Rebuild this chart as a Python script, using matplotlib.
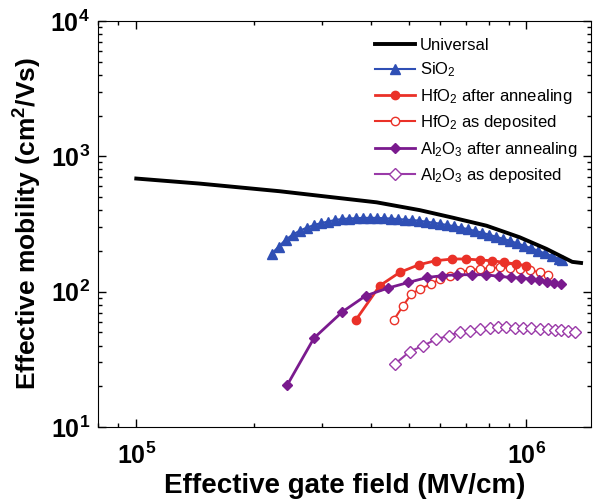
import numpy as np
import matplotlib.pyplot as plt

plt.rcParams['font.family'] = ['Liberation Sans', 'DejaVu Sans']
plt.rcParams['mathtext.fontset'] = 'custom'
plt.rcParams['mathtext.rm'] = 'Liberation Sans'
plt.rcParams['mathtext.it'] = 'Liberation Sans:italic'
plt.rcParams['mathtext.bf'] = 'Liberation Sans:bold'

# Universal mobility curve
univ_x = [1.00e5, 1.45e5, 2.33e5, 4.13e5, 5.33e5, 6.47e5, 7.90e5, 9.61e5, 1.125e6, 1.31e6, 1.38e6]
univ_y = [685, 629, 552, 457, 400, 352, 307, 252, 207, 166, 163]

# SiO2 (dense triangles)
sio2_x = [2.223e5, 2.317e5, 2.415e5, 2.517e5, 2.623e5, 2.734e5, 2.849e5, 2.970e5, 3.095e5,
          3.225e5, 3.361e5, 3.503e5, 3.651e5, 3.805e5, 3.966e5, 4.133e5, 4.307e5, 4.489e5,
          4.677e5, 4.875e5, 5.081e5, 5.295e5, 5.518e5, 5.751e5, 5.994e5, 6.246e5, 6.510e5,
          6.784e5, 7.070e5, 7.369e5, 7.680e5, 8.003e5, 8.341e5, 8.693e5, 9.060e5, 9.443e5,
          9.842e5, 1.026e6, 1.069e6, 1.114e6, 1.161e6, 1.210e6, 1.232e6]
sio2_y = [191, 215, 242, 264, 282, 297, 310, 321, 329,
          338, 344, 347, 349, 351, 351, 351, 349, 347,
          344, 341, 338, 335, 329, 324, 318, 311, 305,
          297, 290, 281, 273, 264, 255, 246, 238, 228,
          219, 210, 201, 192, 184, 175, 172]

# HfO2 after annealing
hfa_x = [3.651e5, 4.206e5, 4.733e5, 5.305e5, 5.853e5, 6.461e5, 7.018e5, 7.592e5, 8.180e5,
         8.760e5, 9.388e5, 1.000e6]
hfa_y = [61.6, 110.6, 138.8, 158.2, 169.3, 174.3, 174.3, 171.3, 169.3, 164.5, 160.1, 155.5]

# HfO2 as deposited
hfd_x = [4.568e5, 4.827e5, 5.072e5, 5.327e5, 5.707e5, 5.994e5, 6.358e5, 6.745e5, 7.154e5,
         7.592e5, 8.053e5, 8.542e5, 9.062e5, 9.612e5, 1.020e6, 1.082e6, 1.136e6]
hfd_y = [61.6, 78.6, 96.0, 104.5, 113.9, 124.0, 131.2, 138.8, 144.5,
         147.0, 149.5, 151.1, 149.5, 147.0, 144.5, 138.8, 133.4]

# Al2O3 after annealing
ala_x = [2.439e5, 2.854e5, 3.375e5, 3.871e5, 4.417e5, 4.983e5, 5.574e5, 6.089e5, 6.654e5,
         7.269e5, 7.864e5, 8.506e5, 9.116e5, 9.670e5, 1.026e6, 1.077e6, 1.132e6, 1.177e6, 1.224e6]
ala_y = [20.5, 45.4, 71.0, 93.2, 106.3, 117.0, 127.4, 131.2, 133.4,
         133.4, 133.4, 129.6, 127.4, 126.1, 124.0, 121.9, 118.4, 115.8, 113.9]

# Al2O3 as deposited
ald_x = [4.595e5, 5.022e5, 5.431e5, 5.877e5, 6.331e5, 6.745e5, 7.154e5, 7.592e5, 8.053e5,
         8.456e5, 8.886e5, 9.333e5, 9.801e5, 1.030e6, 1.082e6, 1.136e6, 1.182e6, 1.229e6,
         1.278e6, 1.329e6]
ald_y = [29.1, 36.1, 39.8, 44.6, 47.2, 50.5, 51.4, 52.9, 53.8,
         55.0, 55.0, 54.3, 53.8, 53.8, 53.4, 52.9, 52.2, 52.0, 51.4, 50.5]

blue = '#2f4fb5'
red = '#ea3128'
purple = '#7a1a8e'
purple2 = '#9a3aa8'

fig = plt.figure(figsize=(5.95, 4.99), dpi=100)
ax = fig.add_axes([0.1655, 0.1443, 0.993 - 0.1655, 0.958 - 0.1443])

ax.plot(univ_x, univ_y, color='black', lw=2.8, label='Universal', zorder=5)
ax.plot(sio2_x, sio2_y, color=blue, lw=1.5, marker='^', ms=6.5, mec=blue, mfc=blue,
        label='SiO$_2$', zorder=4)
ax.plot(hfa_x, hfa_y, color=red, lw=2, marker='o', ms=6, mec=red, mfc=red,
        label='HfO$_2$ after annealing', zorder=3)
ax.plot(hfd_x, hfd_y, color=red, lw=1.5, marker='o', ms=6, mec=red, mfc='white', mew=1,
        label='HfO$_2$ as deposited', zorder=2)
ax.plot(ala_x, ala_y, color=purple, lw=2, marker='D', ms=5.5, mec=purple, mfc=purple,
        label='Al$_2$O$_3$ after annealing', zorder=3)
ax.plot(ald_x, ald_y, color=purple2, lw=1.5, marker='D', ms=6, mec=purple2, mfc='white',
        mew=1, label='Al$_2$O$_3$ as deposited', zorder=2)

ax.set_xscale('log')
ax.set_yscale('log')
ax.set_xlim(8e4, 1.462e6)
ax.set_ylim(10, 1e4)

ax.set_xticks([1e5, 1e6])
ax.set_xticklabels([r'$\mathbf{10^{5}}$', r'$\mathbf{10^{6}}$'])
ax.set_yticks([1e1, 1e2, 1e3, 1e4])
ax.set_yticklabels([r'$\mathbf{10^{1}}$', r'$\mathbf{10^{2}}$', r'$\mathbf{10^{3}}$',
                    r'$\mathbf{10^{4}}$'])
ax.tick_params(which='both', direction='in', top=True, right=True, labelsize=18)
ax.tick_params(which='major', length=6, width=1)
ax.tick_params(which='minor', length=3, width=1)
ax.tick_params(axis='x', which='major', pad=11)
ax.tick_params(axis='y', which='major', pad=6)
ax.tick_params(axis='x', which='minor', labelbottom=False)
ax.tick_params(axis='y', which='minor', labelleft=False)

ax.set_xlabel('Effective gate field (MV/cm)', fontsize=20, fontweight='bold', labelpad=3)
ax.set_ylabel(r'Effective mobility (cm$^{\mathbf{2}}$/Vs)', fontsize=19, fontweight='bold',
              labelpad=5)

leg = ax.legend(loc='upper left', bbox_to_anchor=(0.561, 0.958), frameon=False,
                fontsize=12, numpoints=1, handlelength=2.4, handletextpad=0.3,
                labelspacing=0.45, borderpad=0, borderaxespad=0)

fig.savefig('out.png', dpi=100)
